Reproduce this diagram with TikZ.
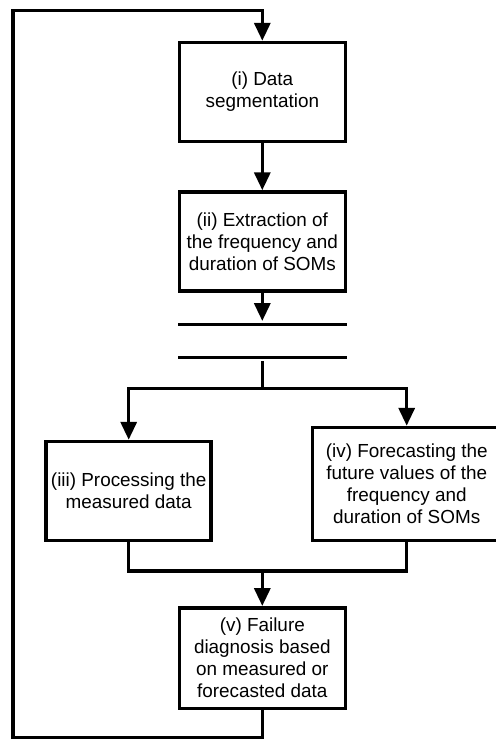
\documentclass[tikz,border=0pt]{standalone}
\usepackage{fontspec}
\setmainfont{Liberation Sans}
\usetikzlibrary{arrows.meta}

\begin{document}
\begin{tikzpicture}[x=1pt, y=-1pt,
        line width=3.5pt,
        stage/.style={draw, align=center, inner sep=0pt,
            font=\fontsize{18.9}{22}\selectfont},
        bar/.style={fill=black, inner sep=0pt, minimum width=169pt, minimum height=3.5pt},
        arr/.style={-{Triangle[length=18pt, width=16pt]}}]
        \useasboundingbox (0, 0) rectangle (496, 740);

        \node[stage, minimum width=166pt, minimum height=99pt] (seg) at (262.3, 92) { (i) Data\\segmentation };
        \node[stage, minimum width=166pt, minimum height=99pt] (extr) at (262.3, 241.5) { (ii) Extraction of\\the frequency and\\duration of SOMs };

        \node[bar] (fork) at (262.3, 324.5) { };
        \node[bar] (join) at (262.3, 357.5) { };

        \node[stage, minimum width=165pt, minimum height=99pt] (proc) at (128.7, 491) { (iii) Processing the\\measured data };
        \node[stage, minimum width=188pt, minimum height=113pt] (fcst) at (406.7, 484) { (iv) Forecasting the\\future values of the\\frequency and\\duration of SOMs };

        \node[stage, minimum width=166pt, minimum height=100.5pt] (diag) at (262.3, 658) { (v) Failure\\diagnosis based\\on measured or\\forecasted data };

        \coordinate (split) at (262.3, 388.3);
        \coordinate (merge) at (262.3, 571);
        \coordinate (loopbot) at (13, 737.5);
        \coordinate (looptop) at (13, 10.5);

        \draw[arr] (seg) -- (extr);
        \draw[arr] (extr) -- (fork.north);
        \draw (join.south) -- (split);
        \draw[arr] (split) -| (proc.north);
        \draw[arr] (split) -| (fcst.north);
        \draw (proc.south) |- (merge) -| (fcst.south);
        \draw[arr] (merge) -- (diag.north);
        \draw[arr] (diag.south) |- (loopbot) -- (looptop) -| (seg.north);
    \end{tikzpicture}
\end{document}
